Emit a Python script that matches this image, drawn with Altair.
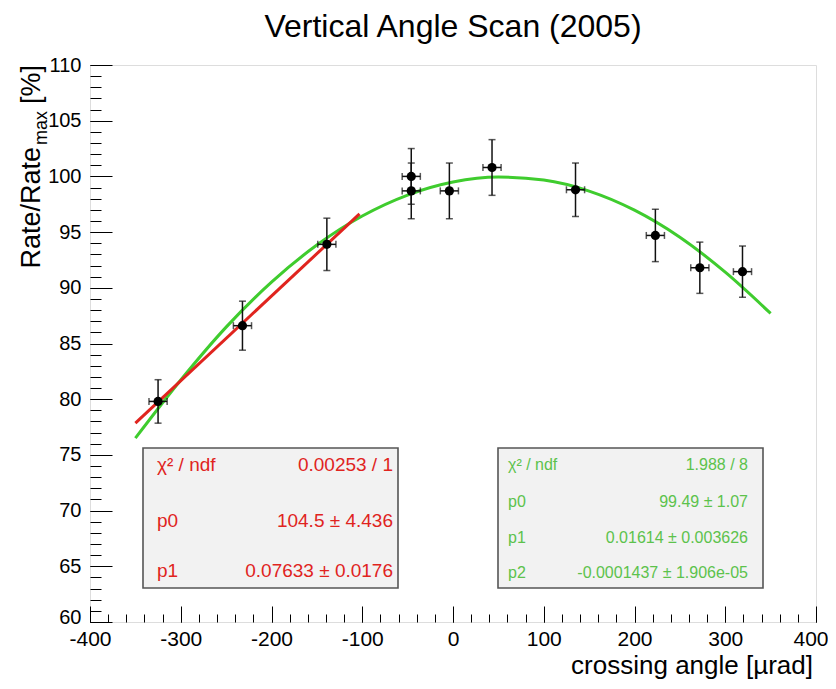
import altair as alt
import pandas as pd

# ---- data ----
angle = [-325, -232, -139, -46, -46, -4, 43, 135, 223, 272, 319]
rate = [79.8, 86.6, 93.9, 100.0, 98.7, 98.7, 100.8, 98.8, 94.7, 91.8, 91.45]
rate_err = [1.95, 2.2, 2.35, 2.5, 2.5, 2.5, 2.5, 2.4, 2.35, 2.3, 2.3]
angle_err = [10, 10, 10, 10, 10, 10, 10, 10, 10, 10, 10]

# green pol2 fit curve
green_x = [-350, -300, -250, -200, -150, -100, -50, 0, 50, 100, 150, 200, 250, 300, 350]
green_y = [76.5, 81.72, 86.47, 90.51, 93.84, 96.44, 98.32, 99.49, 99.94, 99.67,
           98.68, 96.97, 94.54, 91.40, 87.7]
# red linear fit segment
red_x = [-350, -103]
red_y = [77.85, 96.64]

red_labels = ["χ² / ndf", "p0", "p1"]
red_values = ["0.00253 / 1", "104.5 ± 4.436", "0.07633 ± 0.0176"]
green_labels = ["χ² / ndf", "p0", "p1", "p2"]
green_values = ["1.988 / 8", "99.49 ±  1.07", "0.01614 ± 0.003626", "-0.0001437 ± 1.906e-05"]

x_major = [-400, -300, -200, -100, 0, 100, 200, 300, 400]
x_minor = list(range(-400, 401, 20))
y_major = [60, 65, 70, 75, 80, 85, 90, 95, 100, 105, 110]
y_minor = list(range(60, 111, 1))

FONT = "Liberation Sans"
RED = "#e0241e"
GREEN_LINE = "#3fcc2e"
GREEN_TXT = "#5cc24c"

df = pd.DataFrame({
    "x": angle, "y": rate,
    "ylo": [r - e for r, e in zip(rate, rate_err)],
    "yhi": [r + e for r, e in zip(rate, rate_err)],
    "xlo": [a - e for a, e in zip(angle, angle_err)],
    "xhi": [a + e for a, e in zip(angle, angle_err)],
})
gdf = pd.DataFrame({"x": green_x, "y": green_y})
rdf = pd.DataFrame({"x": red_x, "y": red_y})

xs = alt.Scale(domain=[-400, 400], nice=False, zero=False)
ys = alt.Scale(domain=[60, 110], nice=False, zero=False)

def X(field, **kw):
    return alt.X(field, type="quantitative", scale=xs, axis=None, **kw)

def Y(field, **kw):
    return alt.Y(field, type="quantitative", scale=ys, axis=None, **kw)

HYPHEN = "datum.value < 0 ? '-' + abs(datum.value) : '' + datum.value"

# axis layers (ticks inside the frame, ROOT style)
x_major_ax = alt.Chart(df).mark_point(opacity=0).encode(
    x=alt.X("x:Q", scale=xs, axis=alt.Axis(
        orient="bottom", values=x_major, tickSize=16, offset=-16, domain=False,
        labelFontSize=21, labelFont=FONT, labelColor="#000", labelPadding=6,
        labelExpr=HYPHEN,
        labelAlign={"condition": {"test": "datum.value == 400", "value": "right"}, "value": "center"},
        labelOffset={"condition": {"test": "datum.value == 400", "value": 12}, "value": 0},
        tickColor="#000", title=None, grid=False, labelFlush=False, labelOverlap=False)),
    y=Y("y:Q"))
x_minor_ax = alt.Chart(df).mark_point(opacity=0).encode(
    x=alt.X("x:Q", scale=xs, axis=alt.Axis(
        orient="bottom", values=x_minor, tickSize=8, offset=-8, domain=False,
        labels=False, tickColor="#000", title=None, grid=False)),
    y=Y("y:Q"))
y_major_ax = alt.Chart(df).mark_point(opacity=0).encode(
    y=alt.Y("y:Q", scale=ys, axis=alt.Axis(
        orient="left", values=y_major, tickSize=22, offset=-22, domain=False,
        labelFontSize=20, labelFont=FONT, labelColor="#000", labelPadding=9,
        labelOffset={"condition": {"test": "datum.value == 60", "value": -5}, "value": 0},
        tickColor="#000", title=None, grid=False, labelFlush=False, labelOverlap=False)),
    x=X("x:Q"))
y_minor_ax = alt.Chart(df).mark_point(opacity=0).encode(
    y=alt.Y("y:Q", scale=ys, axis=alt.Axis(
        orient="left", values=y_minor, tickSize=11, offset=-11, domain=False,
        labels=False, tickColor="#000", title=None, grid=False)),
    x=X("x:Q"))

green_line = alt.Chart(gdf).mark_line(color=GREEN_LINE, strokeWidth=3, interpolate="monotone").encode(
    x=X("x:Q"), y=Y("y:Q"))
red_line = alt.Chart(rdf).mark_line(color=RED, strokeWidth=3).encode(
    x=X("x:Q"), y=Y("y:Q"))

vbar = alt.Chart(df).mark_errorbar(ticks={"size": 7, "thickness": 1.5}, color="#111", thickness=1.5).encode(
    x=X("x:Q"), y=Y("ylo:Q"), y2="yhi:Q")
hbar = alt.Chart(df).mark_errorbar(ticks={"size": 7, "thickness": 1.5}, color="#111", thickness=1.5).encode(
    y=Y("y:Q"), x=X("xlo:Q"), x2="xhi:Q")
pts = alt.Chart(df).mark_circle(size=85, color="#000", opacity=1).encode(
    x=X("x:Q"), y=Y("y:Q"))

one = pd.DataFrame({"k": [0]})

def txt(s, px, py, size, color="#000", align="left", baseline="middle", angle=0):
    kw = dict(fontSize=size, font=FONT, color=color, align=align, baseline=baseline)
    if angle:
        kw["angle"] = angle
    return alt.Chart(one).mark_text(**kw).encode(
        x=alt.value(px), y=alt.value(py), text=alt.value(s))

def box(x1, y1, x2, y2):
    return alt.Chart(one).mark_rect(fill="#f2f2f2", stroke="#555", strokeWidth=1.6).encode(
        x=alt.value(x1), x2=alt.value(x2), y=alt.value(y1), y2=alt.value(y2))

OX, OY = 90, 65  # plot origin on the page

layers = [x_minor_ax, x_major_ax, y_minor_ax, y_major_ax, green_line, red_line, vbar, hbar, pts]

# red stat box
layers.append(box(143 - OX, 448 - OY, 398 - OX, 588 - OY))
red_rows = [465, 521, 571]
for lab, val, ry in zip(red_labels, red_values, red_rows):
    layers.append(txt(lab, 157 - OX, ry - OY, 19, RED))
    layers.append(txt(val, 393 - OX, ry - OY, 19, RED, align="right"))

# green stat box
layers.append(box(498 - OX, 448 - OY, 763 - OX, 588 - OY))
green_rows = [465, 502, 538, 573]
for lab, val, gy in zip(green_labels, green_values, green_rows):
    layers.append(txt(lab, 508 - OX, gy - OY, 16, GREEN_TXT))
    layers.append(txt(val, 748 - OX, gy - OY, 16, GREEN_TXT, align="right"))

# titles
layers.append(txt("Vertical Angle Scan (2005)", 453 - OX, 37 - OY, 32, align="center", baseline="alphabetic"))
layers.append(txt("crossing angle [µrad]", 813 - OX, 666 - OY, 26, align="right"))
layers.append(txt("[%]", 40 - OX, 65 - OY, 27, align="right", baseline="alphabetic", angle=270))
layers.append(txt("max", 47 - OX, 111 - OY, 18, align="right", baseline="alphabetic", angle=270))
layers.append(txt("Rate/Rate", 40 - OX, 147 - OY, 27, align="right", baseline="alphabetic", angle=270))

chart = alt.layer(*layers).resolve_axis(x="independent", y="independent").properties(
    width=726, height=557, autosize="none",
    padding={"left": 82, "top": 57, "right": 12, "bottom": 59},
).configure_view(stroke="#000", strokeWidth=1.2).configure(background="white")

chart.save("out.html", embed_options={"renderer": "svg", "actions": False})
